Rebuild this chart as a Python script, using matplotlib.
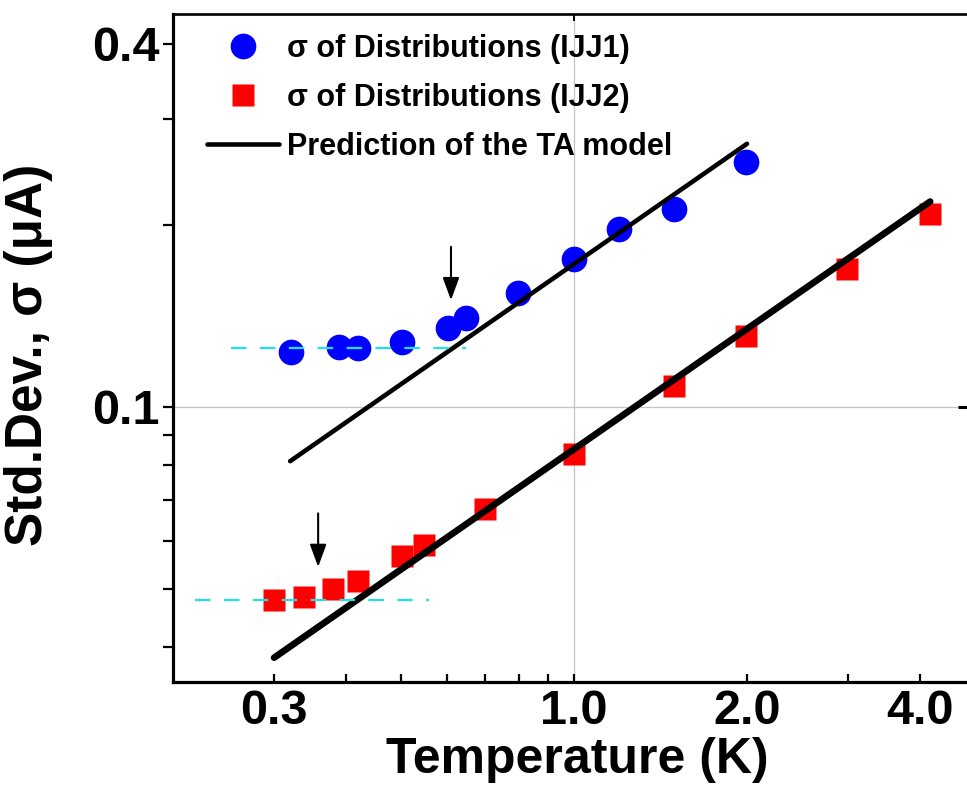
import numpy as np
import matplotlib.pyplot as plt
from matplotlib.ticker import FixedLocator, FixedFormatter, NullFormatter, NullLocator

plt.rcParams['font.family'] = ['Liberation Sans', 'DejaVu Sans']
plt.rcParams['font.weight'] = 'bold'

# sigma of the switching distributions, IJJ1 (blue circles)
t_ijj1 = [0.321, 0.390, 0.420, 0.501, 0.602, 0.648, 0.797, 1.00, 1.196, 1.495, 1.993]
s_ijj1 = [0.1234, 0.1257, 0.1250, 0.1279, 0.1349, 0.1402, 0.1546, 0.1756, 0.1969, 0.2126, 0.2548]

# IJJ2 (red squares)
t_ijj2 = [0.300, 0.338, 0.380, 0.420, 0.501, 0.548, 0.699, 1.00, 1.495, 1.993, 2.985, 4.17]
s_ijj2 = [0.0479, 0.0484, 0.0499, 0.0514, 0.0566, 0.0590, 0.0677, 0.0837, 0.1082, 0.1310, 0.169, 0.2085]

# TA model prediction, straight lines on log-log
t_ta1 = [0.32, 2.0]
s_ta1 = [0.0813, 0.273]
t_ta2 = [0.30, 4.17]
s_ta2 = [0.0384, 0.219]

# saturation levels at low T (cyan dashes)
t_sat1 = [0.2525, 0.648]
s_sat1 = [0.1253, 0.1253]
t_sat2 = [0.2187, 0.558]
s_sat2 = [0.0479, 0.0479]

# crossover arrows: T, sigma at tail, sigma at tip
arrow_t = [0.610, 0.358]
arrow_tail = [0.1842, 0.0666]
arrow_tip = [0.1503, 0.0543]

xticks = [0.3, 1.0, 2.0, 4.0]
xtick_labels = ['0.3', '1.0', '2.0', '4.0']
xminor = [0.4, 0.5, 0.6, 0.7, 0.8, 0.9, 3.0]
yticks = [0.1, 0.4]
ytick_labels = ['0.1', '0.4']
yminor = [0.04, 0.05, 0.06, 0.07, 0.08, 0.09, 0.2, 0.3]

fig = plt.figure(figsize=(9.67, 7.92), dpi=100)
ax = fig.add_axes([0.1789, 0.1389, 0.8298, 0.8434])
ax.set_xscale('log')
ax.set_yscale('log')
ax.set_xlim(0.2, 5.0)
ax.set_ylim(0.035, 0.448)

# thin grid only at 1.0 K and 0.1 uA
ax.axvline(1.0, color='#c4c4c4', lw=0.9, zorder=0)
ax.axhline(0.1, color='#c4c4c4', lw=0.9, zorder=0)

h1, = ax.plot(t_ijj1, s_ijj1, 'o', color='#0000ff', ms=18.5, mec='none', zorder=2,
              label='σ of Distributions (IJJ1)')
h2, = ax.plot(t_ijj2, s_ijj2, 's', color='#ff0000', ms=16.5, mec='none', zorder=2,
              label='σ of Distributions (IJJ2)')
h3, = ax.plot(t_ta1, s_ta1, '-', color='black', lw=3.3, solid_capstyle='round', zorder=3,
              label='Prediction of the TA model')
ax.plot(t_ta2, s_ta2, '-', color='black', lw=4.8, solid_capstyle='round', zorder=3)

ax.plot(t_sat1, s_sat1, '--', color='#22e0e8', lw=1.6, dashes=(7, 6), zorder=4)
ax.plot(t_sat2, s_sat2, '--', color='#22e0e8', lw=1.6, dashes=(7, 6), zorder=4)

for t, s0, s1 in zip(arrow_t, arrow_tail, arrow_tip):
    ax.annotate('', xy=(t, s1), xytext=(t, s0),
                arrowprops=dict(arrowstyle='-|>,head_length=0.6,head_width=0.22',
                                color='black', lw=1.5, mutation_scale=23,
                                shrinkA=0, shrinkB=0))

# ticks
ax.xaxis.set_major_locator(FixedLocator(xticks))
ax.xaxis.set_major_formatter(FixedFormatter(xtick_labels))
ax.xaxis.set_minor_locator(FixedLocator(xminor))
ax.xaxis.set_minor_formatter(NullFormatter())
ax.yaxis.set_major_locator(FixedLocator(yticks))
ax.yaxis.set_major_formatter(FixedFormatter(ytick_labels))
ax.yaxis.set_minor_locator(FixedLocator(yminor))
ax.yaxis.set_minor_formatter(NullFormatter())

ax.tick_params(axis='x', which='both', direction='in', length=6, width=1.6,
               labelsize=35, pad=5)
ax.tick_params(axis='y', which='both', direction='out', length=7.5, width=1.6,
               labelsize=35, pad=2)

for side in ['left', 'bottom']:
    ax.spines[side].set_linewidth(2.3)
ax.spines['top'].set_linewidth(1.9)
ax.spines['right'].set_linewidth(1.9)

# single ticks on top and right spines
top = ax.secondary_xaxis('top')
top.xaxis.set_major_locator(FixedLocator([1.0]))
top.xaxis.set_minor_locator(NullLocator())
top.tick_params(direction='in', length=5, width=1.4, labeltop=False)
top.spines['top'].set_visible(False)
right = ax.secondary_yaxis('right')
right.yaxis.set_major_locator(FixedLocator([0.1]))
right.yaxis.set_minor_locator(NullLocator())
right.tick_params(direction='in', length=12, width=2.2, labelright=False)

ax.set_xlabel('Temperature (K)', fontsize=36, fontweight='bold')
ax.set_ylabel('Std.Dev., σ (μA)', fontsize=37, fontweight='bold')
ax.xaxis.set_label_coords(0.504, -0.083)
ax.yaxis.set_label_coords(-0.15, 0.49)

ax.legend(handles=[h1, h2, h3], loc='upper left', bbox_to_anchor=(0.042, 0.97),
          frameon=False, prop={'size': 22, 'weight': 'bold'}, handlelength=2.35,
          handletextpad=0.27, labelspacing=0.62, borderpad=0, borderaxespad=0,
          numpoints=1)

fig.savefig('out.png', dpi=100)
